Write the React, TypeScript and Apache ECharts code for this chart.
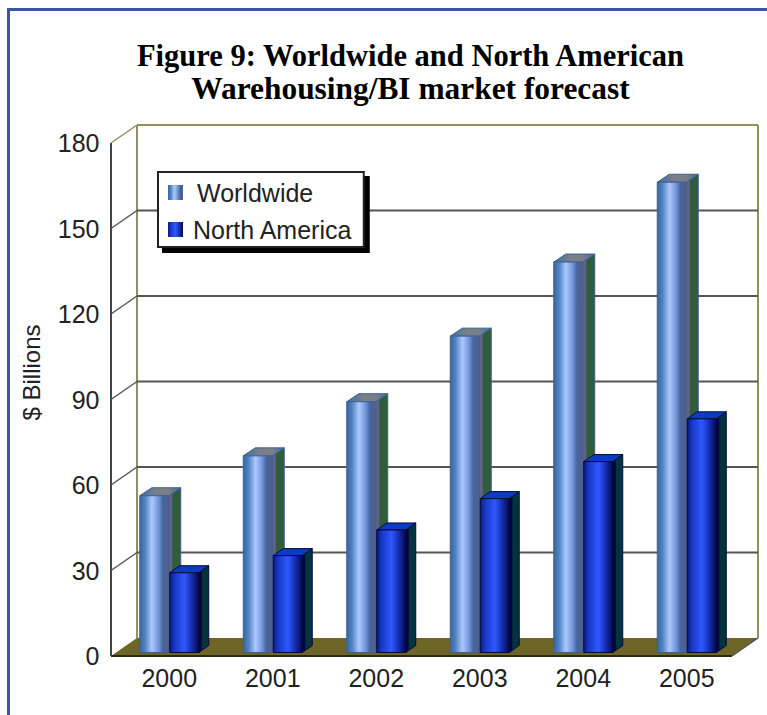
import React, { useEffect, useRef } from "react";
import * as echarts from "echarts";

const years = ["2000", "2001", "2002", "2003", "2004", "2005"];
const worldwide = [55, 69, 88, 111, 137, 165];
const northAmerica = [28, 34, 43, 54, 67, 82];
const yTicks = [0, 30, 60, 90, 120, 150, 180];

// Pseudo-3D geometry of the chart box, in pixels.
const BOX_DX = 26;
const BOX_DY = 18;
const AXIS_SHIFT = 6.5; // the front-left corner sits this far left of the category band
const BAR_WIDTH = 29;
const BAR_GAP = 1;
const BAR_LIFT = 3.5;

const hGrad = (stops: [number, string][]) => ({
  type: "linear",
  x: 0,
  y: 0,
  x2: 1,
  y2: 0,
  colorStops: stops.map(([offset, color]) => ({ offset, color })),
});

const worldwideFace = hGrad([
  [0, "#35689f"],
  [0.18, "#4f82c0"],
  [0.42, "#adc8ff"],
  [0.66, "#6f93d6"],
  [0.8, "#44659f"],
  [1, "#565f86"],
]);
const worldwideTop = hGrad([
  [0, "#3f6fa8"],
  [0.4, "#7a7f88"],
  [0.7, "#7a7f88"],
  [1, "#3f6fa8"],
]);
const northAmericaFace = hGrad([
  [0, "#0a1a78"],
  [0.15, "#1536c0"],
  [0.5, "#2f58ff"],
  [0.82, "#10249a"],
  [1, "#060a48"],
]);

const poly = (points: number[][], style: any) => ({
  type: "polygon",
  shape: { points },
  style,
});

// Draws one prism: shaded front face, top face and side face.
const prism =
  (
    slot: number,
    face: any,
    top: any,
    sideNear: string,
    sideFar: string,
    dx: number,
    dy: number,
    outline: string
  ) =>
  (_: any, api: any) => {
    const cx = api.coord([api.value(0), 0])[0];
    const x = slot < 0 ? cx - BAR_WIDTH - BAR_GAP / 2 : cx + BAR_GAP / 2;
    const y1 = api.coord([0, api.value(1)])[1] - BAR_LIFT;
    const y0 = api.coord([0, 0])[1] - BAR_LIFT;
    const r = x + BAR_WIDTH;
    const mid = r + dx * 0.3;
    return {
      type: "group",
      children: [
        poly(
          [
            [r, y1],
            [r + dx, y1 - dy],
            [r + dx, y0 - dy],
            [r, y0],
          ],
          { fill: sideFar, stroke: outline, lineWidth: 1 }
        ),
        poly(
          [
            [r, y1],
            [mid, y1 - dy * 0.3],
            [mid, y0 - dy * 0.3],
            [r, y0],
          ],
          { fill: sideNear }
        ),
        poly(
          [
            [x, y1],
            [x + dx, y1 - dy],
            [r + dx, y1 - dy],
            [r, y1],
          ],
          { fill: top, stroke: outline, lineWidth: 1 }
        ),
        {
          type: "rect",
          shape: { x, y: y1, width: BAR_WIDTH, height: y0 - y1 },
          style: { fill: face, stroke: outline, lineWidth: 1 },
        },
      ],
    };
  };

// Draws the box: one gridline per tick, plus the floor and frame on the first tick.
const renderBox = (params: any, api: any) => {
  const tick = api.value(0);
  const band = api.size([1, 0])[0];
  const left = api.coord([0, 0])[0] - band / 2 - AXIS_SHIFT;
  const right = left + band * years.length;
  const y = api.coord([0, tick])[1];
  const y0 = api.coord([0, 0])[1];
  const yTop = api.coord([0, yTicks[yTicks.length - 1]])[1];
  const bx = left + BOX_DX;
  const line = (x1: number, y1: number, x2: number, y2: number, stroke: string, w: number) => ({
    type: "line",
    shape: { x1, y1, x2, y2 },
    style: { stroke, lineWidth: w },
  });
  const children: any[] = [];
  if (tick === 0) {
    children.push(
      poly(
        [
          [left, y0],
          [bx, y0 - BOX_DY],
          [right + BOX_DX, y0 - BOX_DY],
          [right, y0],
        ],
        { fill: "#6c6526" }
      ),
      line(bx, yTop - BOX_DY, bx, y0 - BOX_DY, "#8f8f62", 2),
      line(right + BOX_DX, yTop - BOX_DY, right + BOX_DX, y0 - BOX_DY, "#8f8f62", 2),
      line(left, y0, right, y0, "#2a2a1a", 2),
      line(right, y0, right + BOX_DX, y0 - BOX_DY, "#555", 1.5),
      line(left, yTop, left, y0, "#444", 2)
    );
  } else {
    const top = tick === yTicks[yTicks.length - 1];
    children.push(
      line(bx, y - BOX_DY, right + BOX_DX, y - BOX_DY, top ? "#8f8f62" : "#555", 2),
      line(left, y, bx, y - BOX_DY, top ? "#8f8f62" : "#555", 1.5)
    );
  }
  return { type: "group", children };
};

export default function App() {
  const ref = useRef<HTMLDivElement>(null);

  useEffect(() => {
    const chart = echarts.init(ref.current!, null, { renderer: "svg" });
    const titleFont = {
      fontFamily: "Liberation Serif",
      fontWeight: "bold",
      lineHeight: 33,
      color: "#000",
    };
    chart.setOption({
      animation: false,
      backgroundColor: "#fff",
      title: {
        text: "{a|Figure 9: Worldwide and North American}\n{b|Warehousing/BI market forecast}",
        left: 405.5,
        top: 34,
        textAlign: "center",
        textStyle: {
          ...titleFont,
          fontSize: 30.5,
          rich: {
            a: { ...titleFont, fontSize: 30.5 },
            b: { ...titleFont, fontSize: 31.4 },
          },
        },
      },
      grid: { left: 117.5, top: 143, width: 621, height: 513 },
      xAxis: {
        type: "category",
        data: years,
        axisLine: { show: false },
        axisTick: { show: false },
        axisLabel: {
          margin: 9,
          fontFamily: "Liberation Sans",
          fontSize: 25,
          color: "#222",
        },
      },
      yAxis: {
        type: "value",
        min: 0,
        max: 180,
        interval: 30,
        name: "$ Billions",
        nameLocation: "middle",
        nameGap: 74,
        nameTextStyle: {
          fontFamily: "Liberation Sans",
          fontSize: 24,
          color: "#222",
          padding: [0, 0, 0, 54],
        },
        axisLine: { show: false },
        axisTick: { show: false },
        splitLine: { show: false },
        axisLabel: {
          margin: 18,
          fontFamily: "Liberation Sans",
          fontSize: 25,
          color: "#222",
        },
      },
      legend: {
        orient: "vertical",
        left: 158,
        top: 172,
        padding: [8, 11, 5, 10],
        itemGap: 12,
        itemWidth: 15,
        itemHeight: 15,
        backgroundColor: "#fff",
        borderColor: "#222",
        borderWidth: 2,
        shadowColor: "#000",
        shadowBlur: 0,
        shadowOffsetX: 5,
        shadowOffsetY: 5,
        textStyle: { fontFamily: "Liberation Sans", fontSize: 25, color: "#222" },
        data: [
          { name: "Worldwide", icon: "rect", textStyle: { padding: [0, 0, 0, 9] } },
          { name: "North America", icon: "rect", textStyle: { padding: [0, 0, 0, 5] } },
        ],
      },
      graphic: [
        { type: "rect", shape: { x: 7, y: 8, width: 3, height: 707 }, style: { fill: "#3c56a6" }, z: 10 },
        { type: "rect", shape: { x: 7, y: 8, width: 760, height: 3 }, style: { fill: "#3c56a6" }, z: 10 },
      ],
      series: [
        {
          name: "box",
          type: "custom",
          z: 1,
          clip: false,
          silent: true,
          renderItem: renderBox,
          encode: { y: 0 },
          data: yTicks.map((t) => [t]),
        },
        {
          name: "Worldwide",
          type: "custom",
          z: 2,
          clip: false,
          itemStyle: { color: worldwideFace },
          renderItem: prism(-1, worldwideFace, worldwideTop, "#5f6286", "#2f5d3a", 12, 8, "#3f5f93"),
          encode: { x: 0, y: 1 },
          data: worldwide.map((v, i) => [i, v]),
        },
        {
          name: "North America",
          type: "custom",
          z: 3,
          clip: false,
          itemStyle: { color: northAmericaFace },
          renderItem: prism(1, northAmericaFace, "#0c3cc4", "#03063c", "#03333c", 10, 7, "#05093c"),
          encode: { x: 0, y: 1 },
          data: northAmerica.map((v, i) => [i, v]),
        },
      ],
    });
    return () => chart.dispose();
  }, []);

  return (
    <div
      ref={ref}
      style={{ position: "fixed", left: 0, top: 0, width: 767, height: 715, background: "#fff" }}
    />
  );
}
